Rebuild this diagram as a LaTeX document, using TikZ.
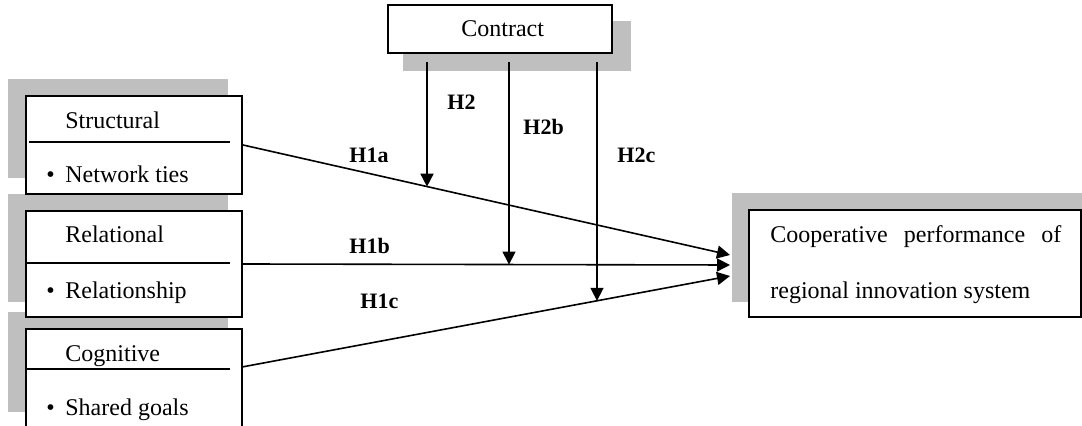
\documentclass[tikz,border=0pt]{standalone}
\usepackage{fontspec}
\setmainfont{Liberation Serif}
\usetikzlibrary{arrows.meta,calc}

\begin{document}
\begin{tikzpicture}[>={Triangle[length=6.5pt,width=6.5pt]},x=0.5pt,y=-0.5pt]
\tikzstyle{shade}=[fill=black!25,draw=none]%
\tikzstyle{box}=[draw,line width=1pt,fill=white,inner sep=0pt]%
\tikzstyle{txt}=[inner sep=0pt,anchor=base west,font=\fontsize{12}{14}\selectfont]%
\tikzstyle{hyp}=[inner sep=0pt,anchor=base west,font=\fontsize{11}{13}\selectfont\bfseries]%
\tikzstyle{link}=[line width=0.8pt,->]%
\useasboundingbox (0,0) rectangle (1082,426);
\clip (0,0) rectangle (1082,426);
% shadows
\fill[shade] (8,79) rectangle (228,178);
\fill[shade] (8,194) rectangle (228,302);
\fill[shade] (8,312) rectangle (228,412);
\fill[shade] (403,21) rectangle (631,71);
\fill[shade] (732,193) rectangle (1090,302);
% boxes
\node[box,minimum width=108pt,minimum height=49pt] (struc) at (134,145) {};
\node[box,minimum width=108pt,minimum height=53pt] (relat) at (134,264) {};
\node[box,minimum width=108pt,minimum height=58pt] (cogn) at (134,387) {};
\node[box,minimum width=112pt,minimum height=24pt] (contr) at (500,29) {};
\node[box,minimum width=166pt,minimum height=53.5pt] (perf) at (915,263.5) {};
% dividers
\draw[line width=0.8pt] (29,142) -- (230,142);
\draw[line width=0.8pt] (26,263) -- (230,263);
\draw[line width=0.8pt] (26,369) -- (230,369);
% texts
\node[txt] (structxt) at (65,129) {Structural};
\node[txt] (tiestxt) at (46,183) {\makebox[9.5pt][l]{\textbullet}Network ties};
\node[txt] (relattxt) at (65,243) {Relational};
\node[txt] (shiptxt) at (46,299) {\makebox[9.5pt][l]{\textbullet}Relationship};
\node[txt] (cogntxt) at (65,362) {Cognitive};
\node[txt] (goaltxt) at (46,416) {\makebox[9.5pt][l]{\textbullet}Shared goals};
\node[txt] (contrtxt) at (461,37) {Contract};
\node[txt] (perftxt) at (770,243) {\makebox[145.5pt][s]{Cooperative\hfill performance\hfill of}};
\node[txt] (regtxt) at (770,299) {regional innovation system};
% main paths
\coordinate (in1a) at (730,255);
\coordinate (in1b) at (730,265);
\coordinate (in1c) at (730,276);
\coordinate (out1c) at (242,367);
\draw[link] (struc.east) -- (in1a);
\draw[link] (relat.east) -- (in1b);
\draw[link] (out1c) -- (in1c);
% moderating paths
\coordinate (m2a) at ($(struc.east)!0.379!(in1a)$);
\coordinate (m2b) at ($(relat.east)!0.547!(in1b)$);
\coordinate (m2c) at ($(out1c)!0.727!(in1c)$);
\coordinate (t2a) at (427,62);
\coordinate (t2b) at (509,62);
\coordinate (t2c) at (597,62);
\draw[link] (t2a) -- (t2a |- m2a);
\draw[link] (t2b) -- (t2b |- m2b);
\draw[link] (t2c) -- (t2c |- m2c);
% labels
\node[hyp] (h1a) at (349,163) {H1a};
\node[hyp] (h1b) at (349,254) {H1b};
\node[hyp] (h1c) at (360,309) {H1c};
\node[hyp] (h2a) at (447,110) {H2};
\node[hyp] (h2b) at (523,135) {H2b};
\node[hyp] (h2c) at (617,163) {H2c};
\end{tikzpicture}
\end{document}
